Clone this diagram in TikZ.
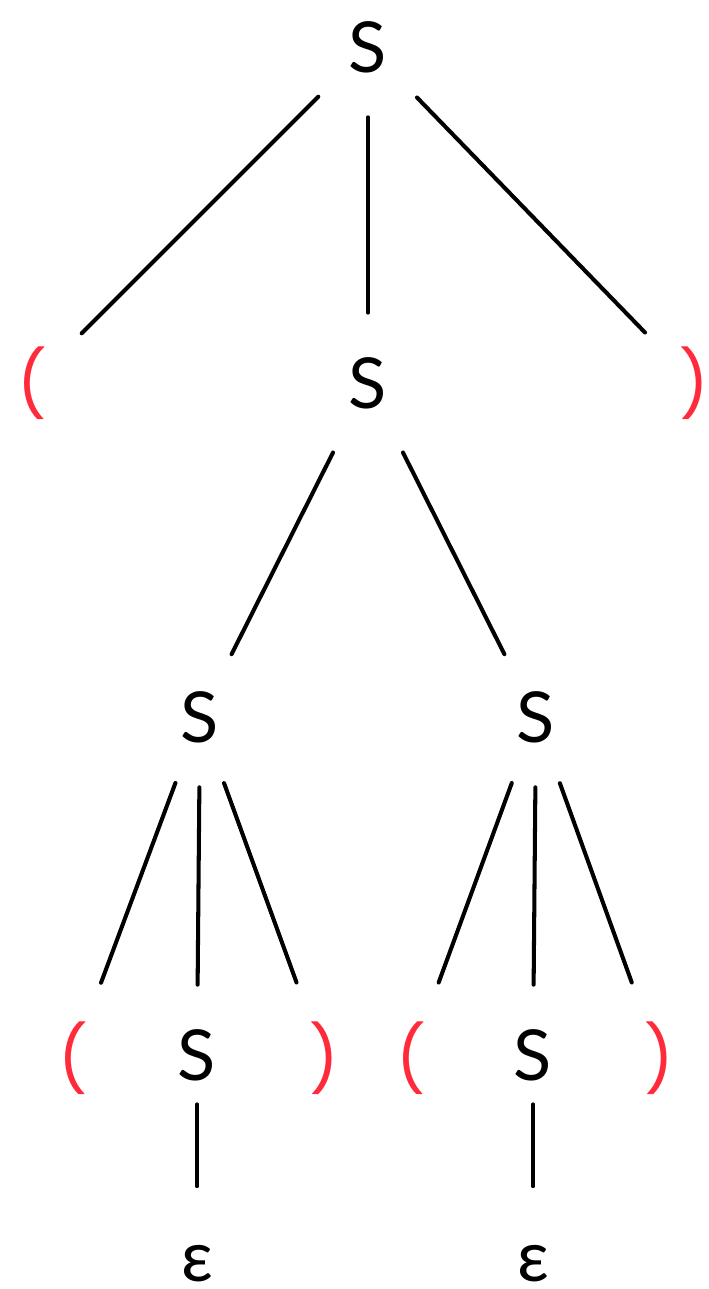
\documentclass[tikz,border=0pt]{standalone}
\usepackage{fontspec}
\setmainfont{Lato}
\newfontfamily\parenfont{Poppins}
\usepackage{xcolor}
\usetikzlibrary{calc}
\definecolor{parenred}{HTML}{FF2A3A}

\tikzset{
    sym/.style={circle, inner sep=0pt, minimum size=2.8cm, font=\fontsize{40}{48}\selectfont},
    paren/.style={sym, text=parenred, font=\parenfont\fontsize{37}{44}\selectfont},
    branch/.style={line width=2.3pt, line cap=round}
}

\begin{document}
\begin{tikzpicture}[x=0.02cm, y=-0.02cm]
    \useasboundingbox (0,0) rectangle (709,1289);
    \clip (0,0) rectangle (709,1289);
    % nodes
    \node[sym] (root) at (368,47) {S};
    \node[paren] (lpa) at (32,383) {(};
    \node[sym] (sa) at (368,383) {S};
    \node[paren] (rpa) at (694,383) {)};
    \node[sym] (sb) at (200,717) {S};
    \node[sym] (sc) at (536,717) {S};
    \node[paren] (lpb) at (73,1058) {(};
    \node[sym] (sd) at (197,1055) {S};
    \node[paren] (rpb) at (324,1058) {)};
    \node[paren] (lpc) at (411,1058) {(};
    \node[sym] (se) at (533,1055) {S};
    \node[paren] (rpc) at (659,1058) {)};
    \node[sym] (ea) at (197,1264) {ε};
    \node[sym] (eb) at (533,1264) {ε};
    % branches
    \draw[branch] (root) -- (lpa);
    \draw[branch] (root) -- (sa);
    \draw[branch] (root) -- (rpa);
    \draw[branch, shorten <=0.15cm] (sa) -- (sb);
    \draw[branch, shorten <=0.15cm] (sa) -- (sc);
    \draw[branch, shorten >=0.2cm] (sb) -- (lpb);
    \draw[branch] (sb) -- (sd);
    \draw[branch, shorten >=0.2cm] (sb) -- (rpb);
    \draw[branch, shorten >=0.2cm] (sc) -- (lpc);
    \draw[branch] (sc) -- (se);
    \draw[branch, shorten >=0.2cm] (sc) -- (rpc);
    \draw[branch, shorten <=-0.42cm, shorten >=0.15cm] (sd) -- (ea);
    \draw[branch, shorten <=-0.42cm, shorten >=0.15cm] (se) -- (eb);
\end{tikzpicture}
\end{document}
